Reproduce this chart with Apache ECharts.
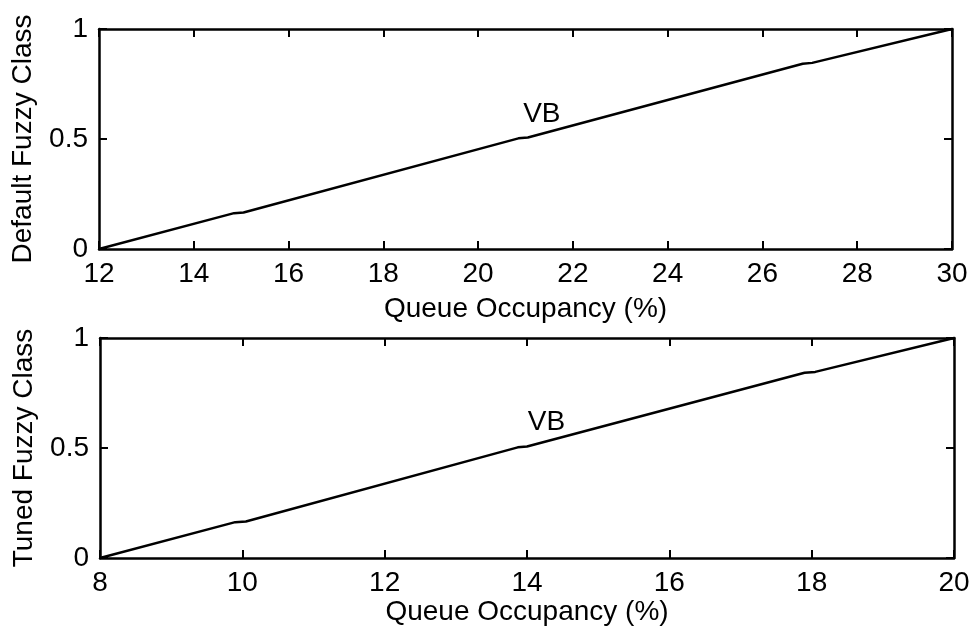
<!DOCTYPE html>
<html>
<head>
<meta charset="utf-8">
<script src="https://cdn.jsdelivr.net/npm/echarts@6/dist/echarts.min.js"></script>
<style>
html,body{margin:0;padding:0;background:#fff;}
#c{width:975px;height:638px;}
</style>
</head>
<body>
<div id="c"></div>
<script>
// Top panel (default)
var topX = [12, 14.85, 15.05, 20.85, 21.05, 26.85, 27.05, 30];
var topY = [0, 0.163, 0.166, 0.503, 0.507, 0.842, 0.846, 1];
// Bottom panel (tuned)
var botX = [8, 9.9, 10.05, 13.87, 14.0, 17.9, 18.05, 20];
var botY = [0, 0.163, 0.166, 0.503, 0.507, 0.842, 0.846, 1];
var topLabel = {x: 20.95, y: 0.614, text: 'VB'};
var botLabel = {x: 14.01, y: 0.618, text: 'VB'};
var xTitle = 'Queue Occupancy (%)';
var yTitles = ['Default Fuzzy Class', 'Tuned Fuzzy Class'];
var xRanges = [[12, 30, 2], [8, 20, 2]];

var FONT = 'Liberation Sans, Arial, sans-serif';
function pair(a, b) { return a.map(function (v, i) { return [v, b[i]]; }); }

var lineW = 2.5;
var grids = [
  {left: 99, top: 29, right: 23, height: 220},
  {left: 100, top: 338, right: 21, height: 220}
];
var nameGaps = [46, 35];
var xAxes = [], yAxes = [];
for (var g = 0; g < 2; g++) {
  var r = xRanges[g];
  xAxes.push({
    type: 'value', gridIndex: g, position: 'bottom', min: r[0], max: r[1], interval: r[2],
    name: xTitle, nameLocation: 'middle', nameGap: nameGaps[g],
    nameTextStyle: {fontFamily: FONT, fontSize: 28, color: '#000'},
    axisLine: {show: true, onZero: false, lineStyle: {color: '#000', width: lineW}},
    axisTick: {show: true, inside: true, length: 8, lineStyle: {color: '#000', width: 2}},
    axisLabel: {show: true, fontFamily: FONT, fontSize: 28, color: '#000', margin: 11},
    splitLine: {show: false}
  });
  xAxes.push({
    type: 'value', gridIndex: g, position: 'top', min: r[0], max: r[1], interval: r[2],
    axisLine: {show: true, onZero: false, lineStyle: {color: '#000', width: lineW}},
    axisTick: {show: true, inside: true, length: 8, lineStyle: {color: '#000', width: 2}},
    axisLabel: {show: false}, splitLine: {show: false}
  });
  yAxes.push({
    type: 'value', gridIndex: g, position: 'left', min: 0, max: 1, interval: 0.5,
    name: yTitles[g], nameLocation: 'middle', nameGap: 62,
    nameTextStyle: {fontFamily: FONT, fontSize: 28, color: '#000'},
    axisLine: {show: true, onZero: false, lineStyle: {color: '#000', width: lineW}},
    axisTick: {show: true, inside: true, length: 8, lineStyle: {color: '#000', width: 2}},
    axisLabel: {show: true, fontFamily: FONT, fontSize: 28, color: '#000', margin: 11},
    splitLine: {show: false}
  });
  yAxes.push({
    type: 'value', gridIndex: g, position: 'right', min: 0, max: 1, interval: 0.5,
    axisLine: {show: true, onZero: false, lineStyle: {color: '#000', width: lineW}},
    axisTick: {show: true, inside: true, length: 8, lineStyle: {color: '#000', width: 2}},
    axisLabel: {show: false}, splitLine: {show: false}
  });
}

function labelSeries(lbl, xi, yi) {
  return {
    type: 'scatter', xAxisIndex: xi, yAxisIndex: yi, symbolSize: 0, silent: true,
    itemStyle: {opacity: 1, color: '#000'},
    data: [[lbl.x, lbl.y]],
    label: {show: true, position: 'right', distance: 0, formatter: lbl.text,
      fontFamily: FONT, fontSize: 28, color: '#000', opacity: 1}
  };
}

var option = {
  animation: false,
  backgroundColor: '#fff',
  grid: grids,
  xAxis: xAxes,
  yAxis: yAxes,
  series: [
    {type: 'line', xAxisIndex: 0, yAxisIndex: 0, data: pair(topX, topY), showSymbol: false,
      symbol: 'none', lineStyle: {color: '#000', width: lineW}, clip: false},
    {type: 'line', xAxisIndex: 2, yAxisIndex: 2, data: pair(botX, botY), showSymbol: false,
      symbol: 'none', lineStyle: {color: '#000', width: lineW}, clip: false},
    labelSeries(topLabel, 0, 0),
    labelSeries(botLabel, 2, 2)
  ]
};
var chart = echarts.init(document.getElementById('c'));
chart.setOption(option);
</script>
</body>
</html>
